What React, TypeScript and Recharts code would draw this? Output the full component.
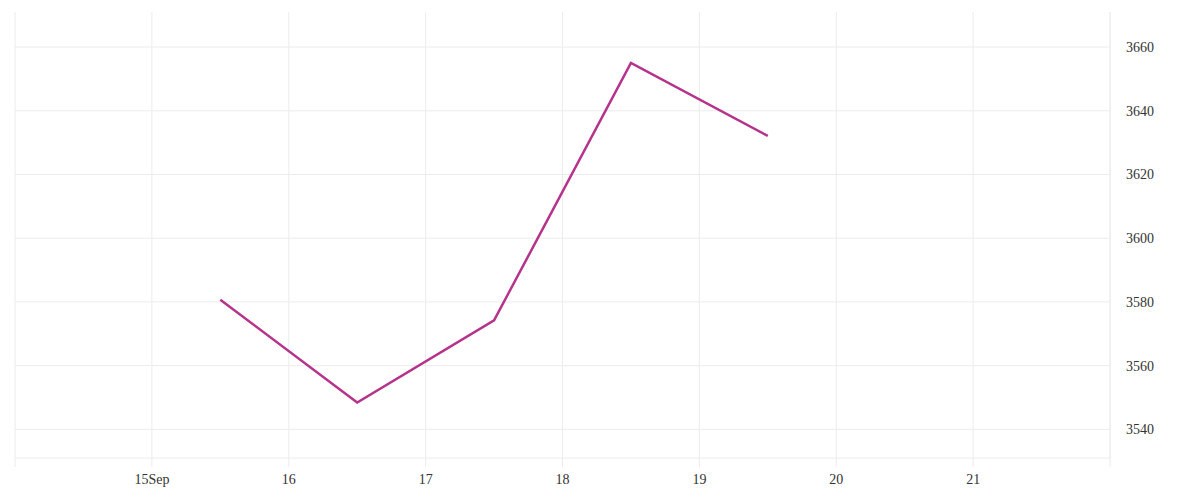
import { CartesianGrid, Line, LineChart, XAxis, YAxis } from "recharts";

// September days; points sit at midday between the day gridlines.
const days = [15.5, 16.5, 17.5, 18.5, 19.5];
const values = [3580.7, 3548.4, 3574.2, 3655.0, 3632.1];

const dayTicks = [14, 15, 16, 17, 18, 19, 20, 21, 22];
const valueTicks = [3540, 3560, 3580, 3600, 3620, 3640, 3660];

const GRID = "#ececec";
const TEXT = "#333333";

const data = days.map((day, i) => ({ day, value: values[i] }));

function dayLabel(d: number) {
  if (d === 14 || d === 22) return "";
  return d === 15 ? "15Sep" : String(d);
}

export default function App() {
  return (
    <LineChart
      width={1184}
      height={484}
      data={data}
      margin={{ top: 4, right: 0, bottom: 0, left: 7 }}
    >
      {/* only the value ticks get horizontal lines, no top border */}
      <CartesianGrid stroke={GRID} strokeWidth={1} horizontalValues={valueTicks} verticalValues={dayTicks} />
      <XAxis
        dataKey="day"
        type="number"
        domain={[14, 22]}
        ticks={dayTicks}
        tickFormatter={dayLabel}
        height={34}
        axisLine={{ stroke: GRID }}
        tickLine={{ stroke: GRID }}
        tickSize={9}
        tickMargin={7}
        tick={{ fill: TEXT, fontSize: 14, fontFamily: "serif" }}
      />
      <YAxis
        orientation="right"
        type="number"
        domain={[3531, 3671]}
        ticks={valueTicks}
        width={82}
        axisLine={{ stroke: GRID }}
        tickLine={false}
        tickMargin={10}
        tick={{ fill: TEXT, fontSize: 14, fontFamily: "serif", textAnchor: "start" }}
      />
      <Line
        type="linear"
        dataKey="value"
        stroke="#b5338a"
        strokeWidth={2.5}
        dot={false}
        isAnimationActive={false}
      />
    </LineChart>
  );
}
